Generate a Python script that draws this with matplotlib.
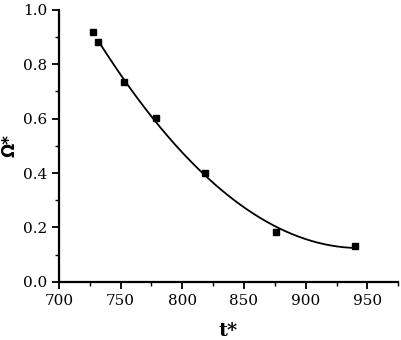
import numpy as np
import matplotlib.pyplot as plt
from matplotlib.ticker import MultipleLocator

# measured points
t = [728, 732, 753, 779, 818, 876, 940]
omega = [0.918, 0.880, 0.734, 0.604, 0.400, 0.183, 0.132]

# smooth fit line through the points (from 732 on)
coef = np.polyfit(t[1:], omega[1:], 2)
t_fit = np.linspace(t[1], t[-1], 200)
omega_fit = np.polyval(coef, t_fit)

plt.rcParams['font.family'] = ['DejaVu Serif']

fig = plt.figure(figsize=(4.01, 3.40), dpi=100)
ax = fig.add_axes([0.147, 0.171, 0.846, 0.800])

ax.plot(t_fit, omega_fit, color='black', lw=1.3)
ax.plot(t, omega, 's', color='black', ms=5)

ax.set_xlim(700, 975)
ax.set_ylim(0, 1.0)
ax.xaxis.set_major_locator(MultipleLocator(50))
ax.xaxis.set_minor_locator(MultipleLocator(25))
ax.yaxis.set_major_locator(MultipleLocator(0.2))
ax.yaxis.set_minor_locator(MultipleLocator(0.1))
ax.yaxis.set_major_formatter(plt.FuncFormatter(lambda v, p: f'{v:.1f}'))

for s in ['top', 'right']:
    ax.spines[s].set_visible(False)
for s in ['left', 'bottom']:
    ax.spines[s].set_linewidth(1.6)
ax.tick_params(which='major', direction='out', length=5, width=1.3, labelsize=11)
ax.tick_params(which='minor', direction='out', length=3, width=1.0)

ax.set_xlabel('t*', fontsize=14, fontweight='bold', labelpad=10)
ax.set_ylabel('Ω*', fontsize=12, fontweight='bold', family=['DejaVu Sans'], va='center')
ax.yaxis.set_label_coords(-0.145, 0.5)

fig.savefig('out.png', dpi=100)
